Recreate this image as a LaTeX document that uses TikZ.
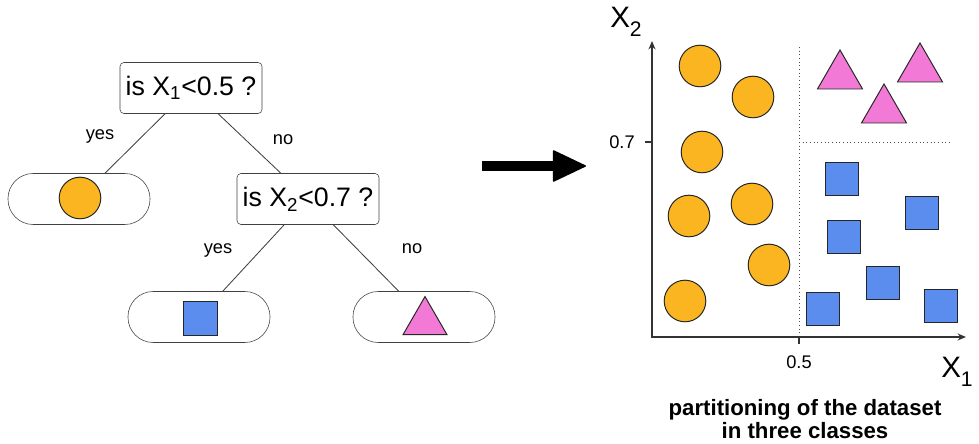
\documentclass[tikz,border=0pt]{standalone}
\usepackage{fontspec}
\setmainfont{Liberation Sans}
\usepackage{tikz}
\usetikzlibrary{shapes.geometric, arrows.meta, positioning}
\usepackage{xcolor}
\definecolor{dotorange}{HTML}{FBB520}
\definecolor{sqblue}{HTML}{5B8DEE}
\definecolor{tripink}{HTML}{F27AD6}
\newcommand{\fsz}[1]{\fontsize{#1}{#1}\selectfont}
\newcommand{\axsub}[1]{\raisebox{-0.3em}{\fsz{15}#1}}

\tikzset{
  question/.style={draw=black!75, rounded corners=0.1cm, minimum width=3.55cm, minimum height=1.275cm, inner sep=0pt, font=\fsz{19}},
  leaf/.style={draw=black!75, rounded corners=0.63cm, minimum width=3.55cm, minimum height=1.275cm},
  branch/.style={draw=black!75, line width=0.6pt},
  answer/.style={font=\fsz{13}},
  dot/.style={circle, draw=black!85, fill=dotorange, minimum size=1.04cm, inner sep=0pt, line width=0.7pt},
  sq/.style={rectangle, draw=black!85, fill=sqblue, minimum size=0.83cm, inner sep=0pt, line width=0.7pt},
  tri/.style={regular polygon, regular polygon sides=3, draw=black!85, fill=tripink, minimum size=1.3cm, inner sep=0pt, line width=0.7pt},
  axis/.style={draw=black!80, line width=1.1pt},
}

\begin{document}
\begin{tikzpicture}[x=0.025cm, y=-0.025cm]
        \useasboundingbox (0,0) rectangle (979,444);

        % Albero
        \node[question] (root) at (191,88) {is X\textsubscript{1}<0.5 ?};
        \node[leaf] (leafyes) at (79,199) {};
        \node[question] (second) at (308,199) {is X\textsubscript{2}<0.7 ?};
        \node[leaf] (leafsq) at (199,317) {};
        \node[leaf] (leaftri) at (424,317) {};

        \node[dot] (leafdot) at (80,198) {};
        \node[sq, minimum size=0.85cm] (leafbox) at (200,318) {};
        \node[tri, minimum size=1.27cm] (leafpeak) at (425,322) {};

        \draw[branch] (root) -- (leafyes);
        \draw[branch] (root) -- (second);
        \draw[branch] (second) -- (leafsq);
        \draw[branch] (second) -- (leaftri);

        \node[answer] (yesA) at (100,136) {yes};
        \node[answer] (noA) at (283,140) {no};
        \node[answer] (yesB) at (218,250) {yes};
        \node[answer] (noB) at (412,249) {no};

        % Freccia
        \coordinate (arrowfrom) at (482,166);
        \coordinate (arrowto) at (586,166);
        \draw[line width=0.25cm, -{Triangle[round, line width=1pt, length=0.85cm, width=0.8cm]}] (arrowfrom) -- (arrowto);

        % Piano
        \coordinate (origin) at (652,337);
        \coordinate (xtip) at (966,337);
        \coordinate (ytip) at (652,41);
        \draw[dotted, black!70, line width=0.6pt] (799,47) -- (799,337);
        \draw[dotted, black!70, line width=0.6pt] (799,142) -- (950,142);
        \draw[axis, {Stealth[length=6pt, width=5pt]}-{Stealth[length=6pt, width=5pt]}] (ytip) -- (origin) -- (xtip);
        \draw[axis, line width=1.6pt] (645,142) -- (652,142);
        \draw[axis, line width=1.6pt] (799,337) -- (799,344);

        \node[answer] (tickY) at (622,142) {0.7};
        \node[answer] (tickX) at (799,362) {0.5};
        \node[font=\fsz{21}] (labX) at (957,372) {X\axsub{1}};
        \node[font=\fsz{21}] (labY) at (626,22) {X\axsub{2}};

        \foreach \x/\y [count=\i] in {700/66, 753/97, 702/152, 689/216, 752/204, 769/265, 685/301}
          \node[dot] (pt\i) at (\x,\y) {};
        \foreach \x/\y [count=\i] in {842/179, 922/213, 844/237, 883/283, 823/309, 941/306}
          \node[sq] (box\i) at (\x,\y) {};
        \foreach \x/\y [count=\i] in {840/76, 920/69, 884/110}
          \node[tri] (peak\i) at (\x,\y) {};

        % Didascalia
        \node[font=\bfseries\fontsize{15.8}{16}\selectfont, align=center] (caption) at (805,419) {partitioning of the dataset\\in three classes};
    \end{tikzpicture}
\end{document}
